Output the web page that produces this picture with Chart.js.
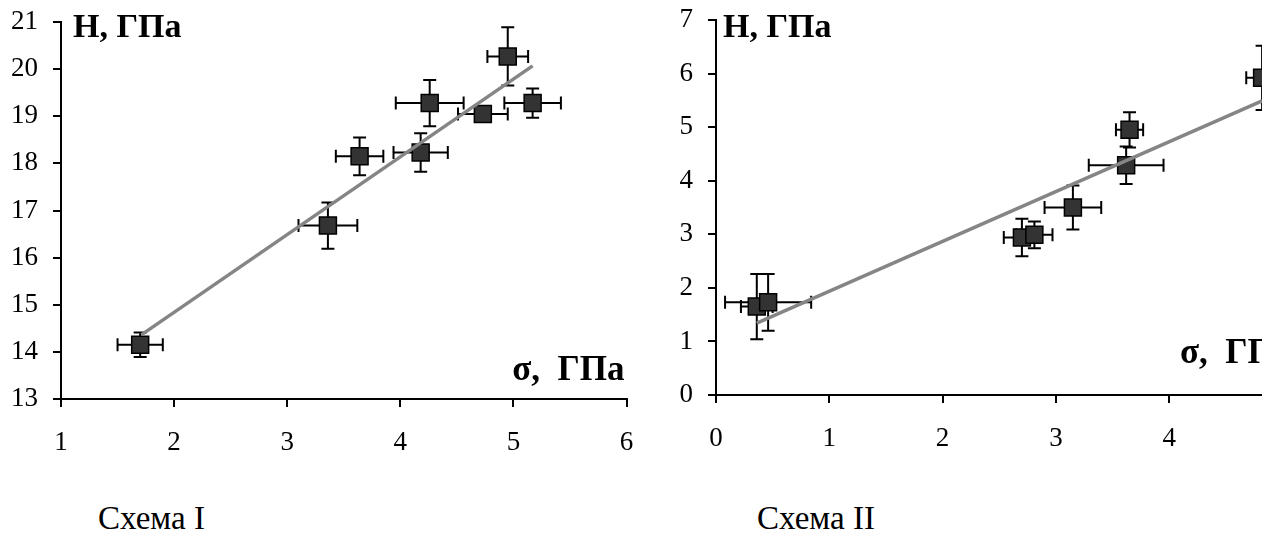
<!DOCTYPE html>
<html>
<head>
<meta charset="utf-8">
<script src="https://cdn.jsdelivr.net/npm/chart.js@4.4.0/dist/chart.umd.min.js"></script>
<style>
  body { margin: 0; background: #fff; width: 1278px; height: 538px; position: relative; overflow: hidden; }
  #boxI { position: absolute; left: 0; top: 0; width: 640px; height: 470px; }
  #boxII { position: absolute; left: 650px; top: 0; width: 612px; height: 470px; overflow: hidden; }
  .caption { position: absolute; top: 502px; font: 33px "Liberation Serif", "Times New Roman", serif; line-height: 1; color: #000; }
</style>
</head>
<body>
<div id="boxI"><canvas id="chartI" width="640" height="470"></canvas></div>
<div id="boxII"><canvas id="chartII" width="646" height="470"></canvas></div>
<div class="caption" style="left: 98px;">Схема I</div>
<div class="caption" style="left: 757px;">Схема II</div>

<script>
// Схема I: напряжение σ (ГПа) и твердость H (ГПа) с погрешностями
const sigmaI = [1.70, 3.36, 3.64, 4.18, 4.26, 4.73, 4.95, 5.17];
const hardI = [14.15, 16.68, 18.15, 18.23, 19.28, 19.05, 20.27, 19.28];
const sigmaErrI = [0.20, 0.26, 0.21, 0.24, 0.30, 0.22, 0.18, 0.25];
const hardErrI = [0.26, 0.49, 0.40, 0.41, 0.49, 0.10, 0.62, 0.31];
const trendI = [{ x: 1.71, y: 14.36 }, { x: 5.17, y: 20.07 }];

// Схема II
const sigmaII = [0.36, 0.46, 2.70, 2.81, 3.15, 3.62, 3.65, 4.82];
const hardII = [1.65, 1.73, 2.94, 2.99, 3.50, 4.29, 4.95, 5.92];
const sigmaErrII = [0.14, 0.38, 0.16, 0.16, 0.25, 0.33, 0.12, 0.14];
const hardErrII = [0.61, 0.53, 0.35, 0.25, 0.41, 0.35, 0.33, 0.60];
const trendII = [{ x: 0.36, y: 1.34 }, { x: 4.82, y: 5.49 }];

const serif = '"Liberation Serif", "Times New Roman", serif';

// усы погрешностей рисуем под маркерами
function errorBars(xs, ys, dx, dy) {
    return {
        id: 'errorBars',
        beforeDatasetsDraw(chart) {
            const ctx = chart.ctx;
            const sx = chart.scales.x, sy = chart.scales.y;
            const cap = 6.5;
            ctx.save();
            ctx.strokeStyle = '#000';
            ctx.lineWidth = 2;
            ctx.beginPath();
            xs.forEach((x, i) => {
                const px = sx.getPixelForValue(x);
                const py = sy.getPixelForValue(ys[i]);
                const x0 = sx.getPixelForValue(x - dx[i]);
                const x1 = sx.getPixelForValue(x + dx[i]);
                const y0 = sy.getPixelForValue(ys[i] - dy[i]);
                const y1 = sy.getPixelForValue(ys[i] + dy[i]);
                ctx.moveTo(x0, py); ctx.lineTo(x1, py);
                ctx.moveTo(x0, py - cap); ctx.lineTo(x0, py + cap);
                ctx.moveTo(x1, py - cap); ctx.lineTo(x1, py + cap);
                ctx.moveTo(px, y0); ctx.lineTo(px, y1);
                ctx.moveTo(px - cap, y0); ctx.lineTo(px + cap, y0);
                ctx.moveTo(px - cap, y1); ctx.lineTo(px + cap, y1);
            });
            ctx.stroke();
            ctx.restore();
        }
    };
}

// подписи осей внутри области графика
function axisNames(hPos, sPos) {
    return {
        id: 'axisNames',
        afterDraw(chart) {
            const ctx = chart.ctx;
            const a = chart.chartArea;
            ctx.save();
            ctx.fillStyle = '#000';
            ctx.textBaseline = 'alphabetic';
            ctx.font = 'bold 34px ' + serif;
            ctx.textAlign = 'left';
            ctx.fillText('H, ГПа', a.left + hPos[0], a.top + hPos[1]);
            ctx.font = 'bold 35px ' + serif;
            ctx.textAlign = sPos[2];
            ctx.fillText('σ,  ГПа', sPos[2] === 'right' ? a.right + sPos[0] : a.left + sPos[0], a.bottom + sPos[1]);
            ctx.restore();
        }
    };
}

function makeChart(id, xs, ys, dx, dy, trend, xRange, yRange, yWidth, xHeight, pad, hPos, sPos) {
    const ctx = document.getElementById(id).getContext('2d');
    const axis = {
        border: { display: true, color: '#000', width: 2 },
        grid: { drawOnChartArea: false, drawTicks: true, tickLength: 8, color: '#000', lineWidth: 2 },
    };
    return new Chart(ctx, {
        type: 'scatter',
        data: {
            datasets: [{
                type: 'line',
                data: trend,
                borderColor: '#858585',
                borderWidth: 3.5,
                pointRadius: 0,
                fill: false
            }, {
                data: xs.map((x, i) => ({ x: x, y: ys[i] })),
                pointStyle: 'rect',
                pointRadius: 12,
                pointBackgroundColor: '#333333',
                pointBorderColor: '#000',
                pointBorderWidth: 1.5
            }]
        },
        options: {
            responsive: false,
            animation: false,
            events: [],
            layout: { padding: pad },
            plugins: { legend: { display: false }, tooltip: { enabled: false } },
            scales: {
                x: {
                    ...axis,
                    min: xRange[0], max: xRange[1],
                    ticks: { stepSize: 1, color: '#000', padding: 20, font: { family: serif, size: 27 } },
                    afterFit(scale) {
                        scale.height = xHeight;
                        scale.paddingLeft = 0;
                        scale.paddingRight = 0;
                    }
                },
                y: {
                    ...axis,
                    min: yRange[0], max: yRange[1],
                    ticks: { stepSize: 1, color: '#000', padding: 15, font: { family: serif, size: 27 } },
                    afterFit(scale) {
                        scale.width = yWidth;
                        scale.paddingTop = 0;
                        scale.paddingBottom = 0;
                    }
                }
            }
        },
        plugins: [errorBars(xs, ys, dx, dy), axisNames(hPos, sPos)]
    });
}

function drawAll() {
    makeChart('chartI', sigmaI, hardI, sigmaErrI, hardErrI, trendI, [1, 6], [13, 21], 61, 71,
        { top: 22, right: 13, left: 0, bottom: 0 }, [12, 15], [-2, -19, 'right']);

    makeChart('chartII', sigmaII, hardII, sigmaErrII, hardErrII, trendII, [0, 5], [0, 7], 66, 75,
        { top: 20, right: 10, left: 0, bottom: 0 }, [7, 17], [464, -32, 'left']);
}

window.addEventListener('load', () => {
    document.fonts.ready.then(() => setTimeout(drawAll, 30));
});
</script>
</body>
</html>
